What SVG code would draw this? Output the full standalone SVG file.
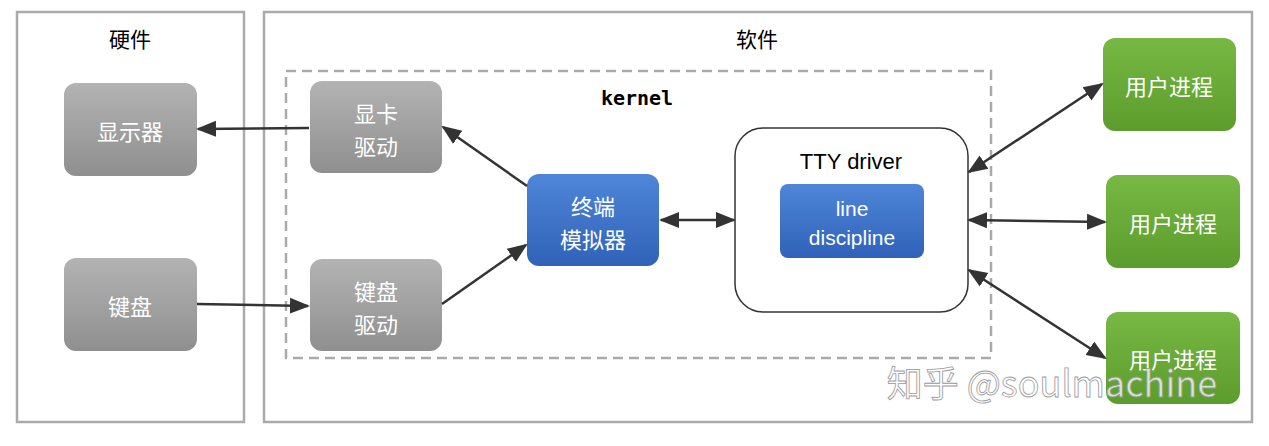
<svg xmlns="http://www.w3.org/2000/svg" width="1269" height="446" viewBox="0 0 1269 446">
<defs>
<linearGradient id="gGray" x1="0" y1="0" x2="0" y2="1"><stop offset="0" stop-color="#b3b3b3"/><stop offset="1" stop-color="#8f8f8f"/></linearGradient>
<linearGradient id="gBlue" x1="0" y1="0" x2="0" y2="1"><stop offset="0" stop-color="#4f86d8"/><stop offset="1" stop-color="#2f62b8"/></linearGradient>
<linearGradient id="gGreen" x1="0" y1="0" x2="0" y2="1"><stop offset="0" stop-color="#78b844"/><stop offset="1" stop-color="#5b9c2c"/></linearGradient>
<marker id="ah" viewBox="0 0 10 10" refX="9" refY="5" markerWidth="8" markerHeight="8" orient="auto-start-reverse"><path d="M0,1 L10,5 L0,9 z" fill="#333"/></marker>
<style>
.frame{fill:#fff;stroke:#aaa;stroke-width:2.5}
.t{font-family:"Noto Sans CJK SC","Liberation Sans",sans-serif;text-anchor:middle;dominant-baseline:central}
.w{fill:#fff;font-size:22px}
.hd{fill:#000;font-size:21px}
.con{stroke:#333;stroke-width:2.5;fill:none;marker-end:url(#ah)}
.bi{marker-start:url(#ah)}
</style>
</defs>
<rect width="1269" height="446" fill="#fff"/>
<rect class="frame" x="17" y="12" width="227" height="410"/>
<text class="t hd" x="130" y="38">硬件</text>
<rect class="frame" x="264" y="12" width="988" height="410"/>
<text class="t hd" x="757" y="38">软件</text>
<rect x="286" y="71" width="705" height="287" fill="none" stroke="#aaa" stroke-width="2.5" stroke-dasharray="10,6"/>
<text class="t" x="637" y="98" style="font-family:'DejaVu Sans Mono',monospace;font-size:20px;font-weight:bold">kernel</text>
<g id="display"><rect x="64" y="83" width="133" height="93" rx="12" fill="url(#gGray)"/><text class="t w" x="130" y="130">显示器</text></g>
<g id="keyboard"><rect x="64" y="258" width="133" height="93" rx="12" fill="url(#gGray)"/><text class="t w" x="130" y="305">键盘</text></g>
<g id="gpudrv"><rect x="310" y="81" width="132" height="92" rx="12" fill="url(#gGray)"/><text class="t w" x="376" y="112">显卡</text><text class="t w" x="376" y="145">驱动</text></g>
<g id="kbddrv"><rect x="310" y="259" width="132" height="92" rx="12" fill="url(#gGray)"/><text class="t w" x="376" y="290">键盘</text><text class="t w" x="376" y="323">驱动</text></g>
<g id="term"><rect x="527" y="174" width="132" height="92" rx="12" fill="url(#gBlue)"/><text class="t w" x="593" y="205">终端</text><text class="t w" x="593" y="238">模拟器</text></g>
<g id="tty"><rect x="735" y="128" width="233" height="184" rx="28" fill="#fff" stroke="#333" stroke-width="1.5"/><text class="t" x="851" y="161" style="font-family:'Liberation Sans',sans-serif;font-size:22px">TTY driver</text>
<rect x="780" y="184" width="144" height="74" rx="8" fill="url(#gBlue)"/><text class="t" x="852" y="208" style="font-family:'Liberation Sans',sans-serif;font-size:21px;fill:#fff">line</text><text class="t" x="852" y="237" style="font-family:'Liberation Sans',sans-serif;font-size:21px;fill:#fff">discipline</text></g>
<g id="up1"><rect x="1103" y="38" width="133" height="93" rx="12" fill="url(#gGreen)"/><text class="t w" x="1169" y="85">用户进程</text></g>
<g id="up2"><rect x="1106" y="175" width="134" height="93" rx="12" fill="url(#gGreen)"/><text class="t w" x="1173" y="222">用户进程</text></g>
<g id="up3"><rect x="1106" y="312" width="134" height="92" rx="12" fill="url(#gGreen)"/><text class="t w" x="1173" y="358">用户进程</text></g>
<g id="connectors">
<line class="con" x1="309" y1="128" x2="198" y2="129"/>
<line class="con" x1="197" y1="304" x2="308" y2="306"/>
<line class="con" x1="527" y1="186" x2="443" y2="127"/>
<line class="con" x1="442" y1="304" x2="526" y2="245"/>
<line class="con bi" x1="661" y1="220" x2="734" y2="220"/>
<line class="con bi" x1="969" y1="172" x2="1102" y2="84"/>
<line class="con bi" x1="969" y1="220" x2="1105" y2="222"/>
<line class="con bi" x1="969" y1="270" x2="1105" y2="358"/>
</g>
<text x="1052" y="397" style="font-family:'Noto Sans CJK SC','Liberation Sans',sans-serif;font-size:36px;fill:#fff;fill-opacity:0.75;stroke:#999;stroke-width:0.8;text-anchor:middle">知乎 @soulmachine</text>
</svg>
